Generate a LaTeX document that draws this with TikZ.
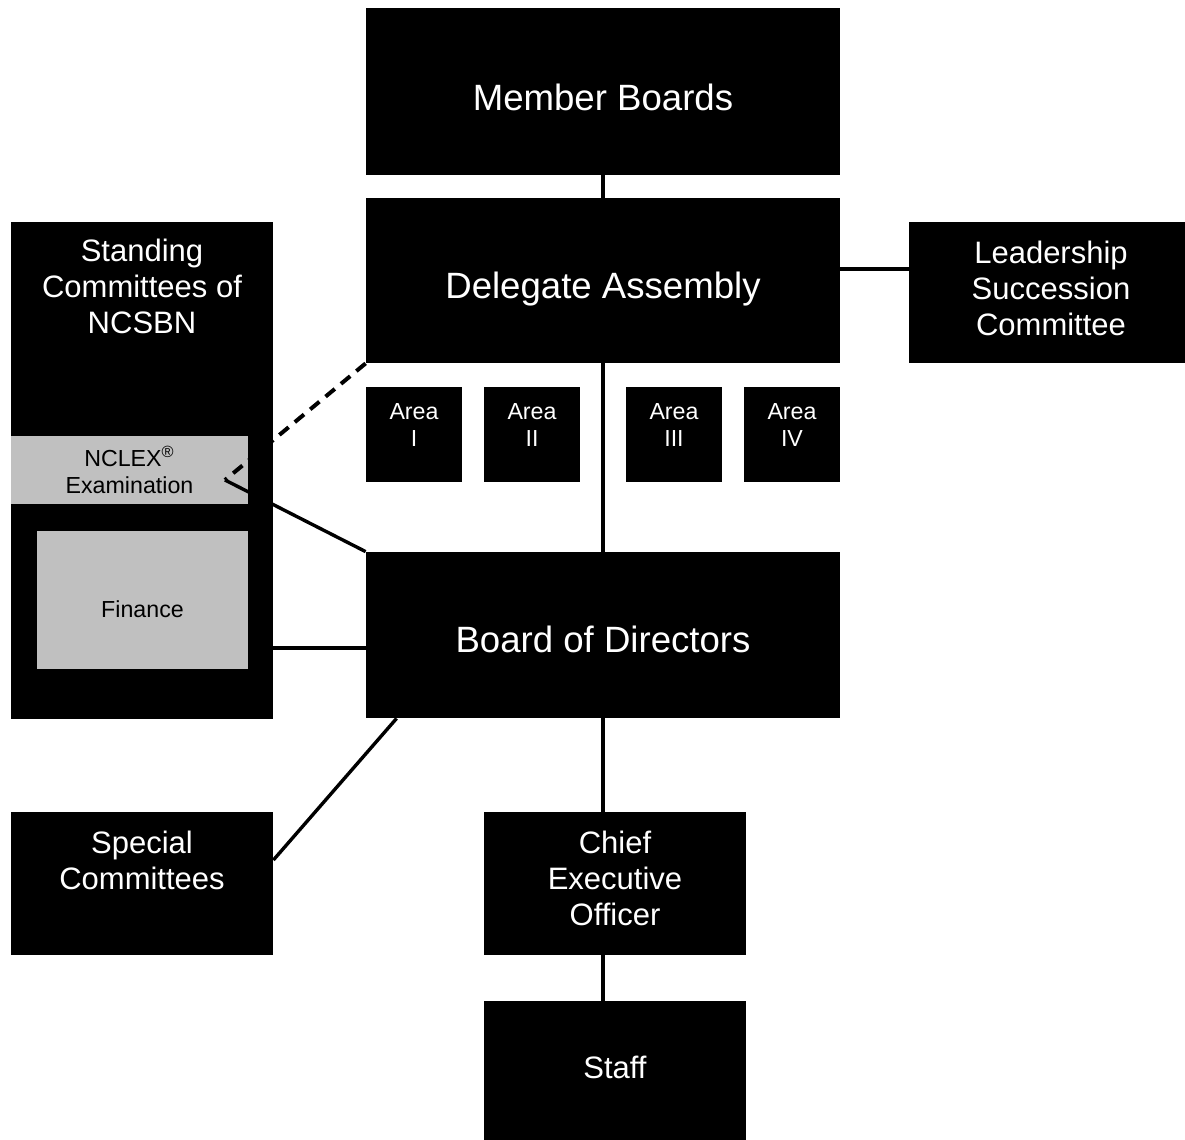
\documentclass[tikz,border=0pt]{standalone}
\usepackage{fontspec}
\setmainfont{Liberation Sans}
\usepackage{tikz}
\usepackage{xcolor}
\definecolor{boxgrey}{HTML}{C0C0C0}
\newcommand{\bigfont}{\fontsize{18.3pt}{22pt}\selectfont}
\newcommand{\midfont}{\fontsize{15.5pt}{18pt}\selectfont}
\newcommand{\smallfont}{\fontsize{11.6pt}{13.5pt}\selectfont}
\tikzset{
    black-box/.style = {fill=black, text=white, rectangle, inner sep=0pt, align=center, font=\midfont},
    grey-box/.style = {fill=boxgrey, text=black, rectangle, inner sep=0pt, align=center, font=\smallfont},
    wide-box/.style = {black-box, minimum width=237pt, font=\bigfont},
    area-box/.style = {black-box, minimum width=48pt, minimum height=47.5pt},
    area-text/.style = {text=white, align=center, font=\smallfont, anchor=center, yshift=4.75pt},
    box-text/.style = {text=white, align=center, font=\midfont, anchor=center},
    link/.style = {draw=black, line width=1.7pt},
}
\begin{document}
\begin{tikzpicture}[x=0.5pt, y=-0.5pt]
\useasboundingbox (0,0) rectangle (1185,1140);
% main line of the chart
\node [wide-box, minimum height=83.5pt, text height=18.8pt, text depth=0.2pt] (mb) at (603,91.5) {Member Boards};
\node [wide-box, minimum height=82.5pt, text height=21.3pt, text depth=3.8pt] (da) at (603,280.5) {Delegate Assembly};
\node [wide-box, minimum height=83pt, text height=17.3pt, text depth=0.2pt] (bod) at (603,635) {Board of Directors};
\node [black-box, minimum width=131pt, minimum height=71.5pt,
       label={[box-text, yshift=2.5pt]center:Chief\\Executive\\Officer}] (ceo) at (615,883.5) {};
\node [black-box, minimum width=131pt, minimum height=69.5pt, text height=11.3pt, text depth=3.2pt] (staff) at (615,1070.5) {Staff};
% side boxes
\node [black-box, minimum width=138pt, minimum height=70.5pt,
       label={[box-text, yshift=2pt, xshift=2pt]center:Leadership\\Succession\\Committee}] (lsc) at (1047,292.5) {};
\node [black-box, minimum width=131pt, minimum height=248.5pt,
       label={[box-text, yshift=-32.5pt]north:Standing\\Committees of\\NCSBN}] (stc) at (142,470.5) {};
\node [grey-box, minimum width=118.5pt, minimum height=34pt] (nclex) at (129.5,470) {NCLEX\textsuperscript{\textregistered}\\Examination};
\node [grey-box, minimum width=105.5pt, minimum height=69pt, text height=17.5pt, text depth=0.1pt] (fin) at (142.5,600) {Finance};
\node [black-box, minimum width=131pt, minimum height=71.5pt,
       label={[box-text, yshift=11.75pt]center:Special\\Committees}] (spc) at (142,883.5) {};
% areas
\node [area-box, label={[area-text]center:Area\\I}] (area1) at (414,434.5) {};
\node [area-box, label={[area-text]center:Area\\II}] (area2) at (532,434.5) {};
\node [area-box, label={[area-text]center:Area\\III}] (area3) at (674,434.5) {};
\node [area-box, label={[area-text]center:Area\\IV}] (area4) at (792,434.5) {};
% connectors
\coordinate (lsc-in) at ([yshift=11.75pt]lsc.west);
\coordinate (fin-out) at ([yshift=-24pt]fin.east);
\coordinate (spc-out) at ([yshift=11.75pt]spc.east);
\coordinate (nclex-in) at (225,480);
\draw [link] (mb.south) -- (da.north);
\draw [link] (lsc-in -| da.east) -- (lsc-in);
\draw [link] (da.south) -- (bod.north);
\draw [link, line width=2pt, dash pattern=on 6pt off 4pt] (da.south west) -- (nclex-in);
\draw [link] (bod.north west) -- (nclex-in);
\draw [link] (fin-out) -- (fin-out -| bod.west);
\draw [link] (spc-out) -- ([xshift=15.5pt]bod.south west);
\draw [link] (bod.south) -- (bod.south |- ceo.north);
\draw [link] (ceo.south -| bod.south) -- (staff.north -| bod.south);
\end{tikzpicture}
\end{document}
